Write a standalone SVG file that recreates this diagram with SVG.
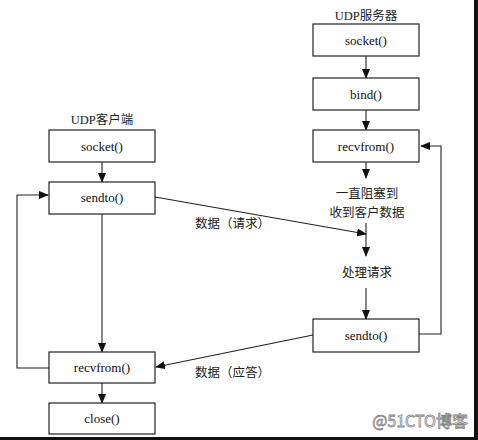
<svg xmlns="http://www.w3.org/2000/svg" width="478" height="440" viewBox="0 0 478 440">
<style>
.box{fill:#fff;stroke:#222;stroke-width:1.2}
.t{font-family:"Liberation Serif","Noto Sans CJK SC",serif;font-size:13px;fill:#111;text-anchor:middle}
.c{font-family:"Noto Sans CJK SC","Liberation Serif",serif;font-size:12.5px;fill:#222}
.ln{fill:none;stroke:#222;stroke-width:1.1}
.wm{font-family:"Noto Sans CJK SC","Liberation Sans",sans-serif;font-size:16px;fill:#fff;stroke:#888;stroke-width:0.8;text-anchor:end}
</style>
<defs>
<marker id="ah" markerWidth="10" markerHeight="8" refX="9" refY="4" orient="auto" markerUnits="userSpaceOnUse">
<path d="M0,0 L10,4 L0,8 Z" fill="#111"/>
</marker>
</defs>
<rect x="0" y="0" width="478" height="440" fill="#fff"/>
<rect x="474" y="0" width="4" height="440" fill="#111"/>
<rect x="0" y="437" width="478" height="3" fill="#111"/>

<text class="c" x="366" y="20" text-anchor="middle"><tspan font-family="Liberation Serif">UDP</tspan>服务器</text>
<text class="c" x="102" y="124" text-anchor="middle"><tspan font-family="Liberation Serif">UDP</tspan>客户端</text>

<g id="connectors">
<line class="ln" x1="366" y1="56" x2="366" y2="78" marker-end="url(#ah)"/>
<line class="ln" x1="366" y1="110" x2="366" y2="130" marker-end="url(#ah)"/>
<line class="ln" x1="366" y1="162" x2="366" y2="178" marker-end="url(#ah)"/>
<line class="ln" x1="366" y1="223" x2="366" y2="256" marker-end="url(#ah)"/>
<line class="ln" x1="366" y1="288" x2="366" y2="319" marker-end="url(#ah)"/>
<polyline class="ln" points="419,334 441,334 441,146 421,146" marker-end="url(#ah)"/>
<line class="ln" x1="155" y1="197" x2="366" y2="234" marker-end="url(#ah)"/>
<line class="ln" x1="313" y1="335" x2="156" y2="367" marker-end="url(#ah)"/>
<line class="ln" x1="102" y1="162" x2="102" y2="182" marker-end="url(#ah)"/>
<line class="ln" x1="102" y1="214" x2="102" y2="352" marker-end="url(#ah)"/>
<line class="ln" x1="102" y1="383" x2="102" y2="403" marker-end="url(#ah)"/>
<polyline class="ln" points="49,368 17,368 17,195 48,195" marker-end="url(#ah)"/>
<text class="c" x="195" y="228">数据（请求）</text>
<text class="c" x="195" y="377">数据（应答）</text>
</g>

<g id="s_socket"><rect class="box" x="313" y="24" width="106" height="32"/><text class="t" x="366" y="45">socket()</text></g>
<g id="s_bind"><rect class="box" x="313" y="78" width="106" height="32"/><text class="t" x="366" y="99">bind()</text></g>
<g id="s_recvfrom"><rect class="box" x="313" y="130" width="106" height="32"/><text class="t" x="366" y="151">recvfrom()</text></g>
<g id="s_block"><text class="c" x="367" y="198" text-anchor="middle">一直阻塞到</text><text class="c" x="367" y="217" text-anchor="middle">收到客户数据</text></g>
<g id="s_process"><text class="c" x="367" y="277" text-anchor="middle">处理请求</text></g>
<g id="s_sendto"><rect class="box" x="313" y="319" width="106" height="33"/><text class="t" x="366" y="340">sendto()</text></g>

<g id="c_socket"><rect class="box" x="49" y="130" width="106" height="32"/><text class="t" x="102" y="151">socket()</text></g>
<g id="c_sendto"><rect class="box" x="49" y="182" width="106" height="32"/><text class="t" x="102" y="202">sendto()</text></g>
<g id="c_recvfrom"><rect class="box" x="49" y="352" width="106" height="31"/><text class="t" x="102" y="372">recvfrom()</text></g>
<g id="c_close"><rect class="box" x="49" y="403" width="106" height="31"/><text class="t" x="102" y="423">close()</text></g>

<text class="wm" x="468" y="427">@51CTO博客</text>
</svg>
